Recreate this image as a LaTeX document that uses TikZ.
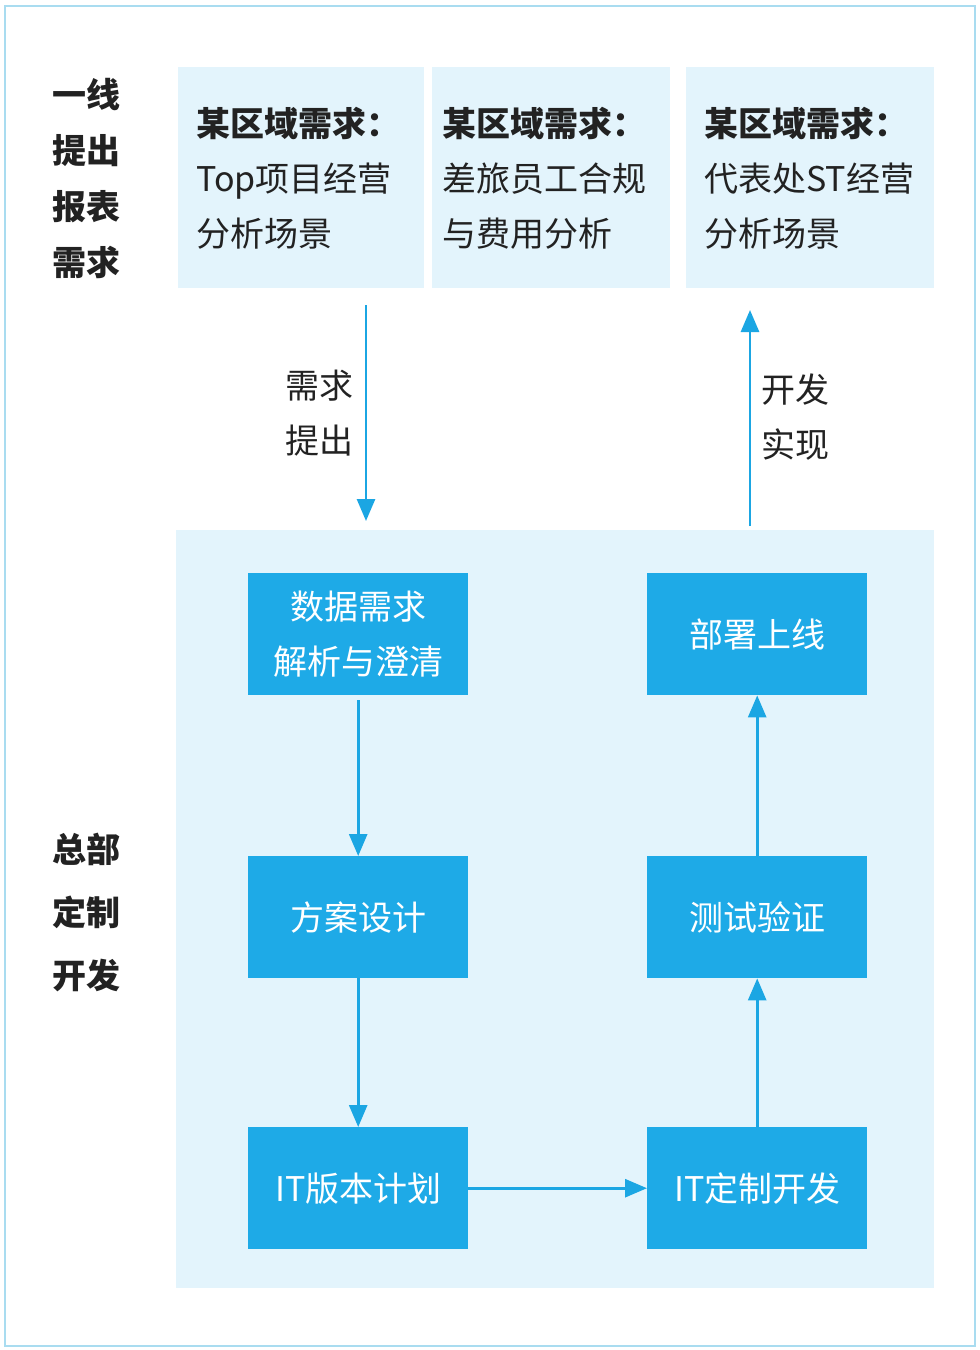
\documentclass[tikz,border=0pt]{standalone}
\usepackage{fontspec}
\setmainfont{Noto Sans CJK SC}
\usetikzlibrary{arrows.meta}
\definecolor{lightfill}{HTML}{E3F4FC}
\definecolor{bluebox}{HTML}{1EAAE7}
\definecolor{arrowblue}{HTML}{1BA6E3}
\definecolor{framecol}{HTML}{A9DCF0}
\definecolor{txt}{HTML}{222222}
\tikzset{
  topbox/.style={fill=lightfill, draw=none, anchor=north west, minimum width=#1, minimum height=221pt, inner sep=0pt},
  toptext/.style={anchor=west, align=left, text=txt, inner sep=0pt, font=\fontsize{34}{55}\selectfont},
  sidelabel/.style={align=center, text=txt, inner sep=0pt, font=\bfseries\fontsize{34}{56}\selectfont},
  steplabel/.style={align=left, text=txt, inner sep=0pt, font=\fontsize{34}{55}\selectfont},
  stepbox/.style={fill=bluebox, draw=none, anchor=north west, minimum width=220pt, minimum height=122pt, inner sep=0pt, text=white, align=center, font=\fontsize{34}{55}\selectfont},
  flow/.style={draw=arrowblue, line width=2.8pt, -{Triangle[width=18pt,length=22pt]}},
}
\begin{document}
\begin{tikzpicture}[x=1pt,y=-1pt]
\useasboundingbox (0,0) rectangle (980,1350);
\fill[white] (0,0) rectangle (980,1350);
\draw[framecol, line width=2pt] (5,6) rectangle (975,1346);

% top row
\node[sidelabel, anchor=center] (frontlabel) at (86,179) {一线\\提出\\报表\\需求};
\node[topbox=246pt] (t1) at (178,67) {};
\node[topbox=238pt] (t2) at (432,67) {};
\node[topbox=248pt] (t3) at (686,67) {};
\node[toptext] (t1txt) at (196,178) {\textbf{某区域需求：}\\Top项目经营\\分析场景};
\node[toptext] (t2txt) at (442,178) {\textbf{某区域需求：}\\差旅员工合规\\与费用分析};
\node[toptext] (t3txt) at (704,178) {\textbf{某区域需求：}\\代表处ST经营\\分析场景};

% bottom panel
\node[fill=lightfill, draw=none, anchor=north west, minimum width=758pt, minimum height=758pt, inner sep=0pt] (panel) at (176,530) {};
\node[sidelabel, anchor=center, font=\bfseries\fontsize{34}{63}\selectfont] (hqlabel) at (86,912) {总部\\定制\\开发};

% arrows between rows
\coordinate (dstart) at (366,305);
\coordinate (dend) at (366,521);
\coordinate (ustart) at (750,526);
\coordinate (uend) at (750,310);
\draw[flow] (dstart) -- (dend);
\draw[flow] (ustart) -- (uend);
\node[steplabel, anchor=east] (reqlabel) at (354,413) {需求\\提出};
\node[steplabel, anchor=west] (devlabel) at (761,417) {开发\\实现};

% step boxes
\node[stepbox] (s1) at (248,573) {数据需求\\解析与澄清};
\node[stepbox] (s2) at (248,856) {方案设计};
\node[stepbox] (s3) at (248,1127) {IT版本计划};
\node[stepbox] (s4) at (647,1127) {IT定制开发};
\node[stepbox] (s5) at (647,856) {测试验证};
\node[stepbox] (s6) at (647,573) {部署上线};

\draw[flow] ([yshift=-5pt]s1.south) -- (s2.north);
\draw[flow] (s2.south) -- (s3.north);
\draw[flow] (s3.east) -- (s4.west);
\draw[flow] (s4.north) -- (s5.south);
\draw[flow] (s5.north) -- (s6.south);
\end{tikzpicture}
\end{document}
